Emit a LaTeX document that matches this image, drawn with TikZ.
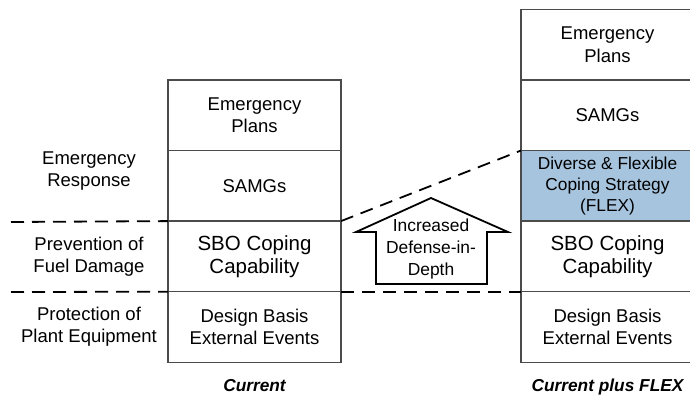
\documentclass[tikz,border=0pt]{standalone}
\usepackage{fontspec}
\setmainfont{Liberation Sans}
\usetikzlibrary{positioning}
\definecolor{rowline}{RGB}{75,75,75}
\definecolor{flexblue}{RGB}{167,196,222}

\begin{document}
\begin{tikzpicture}[
    x=1pt,y=-1pt,
    node distance=0pt,
    row/.style={draw=rowline,line width=1.5pt,outer sep=0pt,inner sep=0pt,
      align=center,minimum width=173pt,minimum height=70.6pt,
      font=\fontsize{18.5}{22.5}\selectfont},
    big/.style={font=\fontsize{20.5}{23}\selectfont},
    small/.style={font=\fontsize{17.3}{21}\selectfont},
    level/.style={align=center,font=\fontsize{18.5}{22}\selectfont},
    cut/.style={draw=black,line width=1.8pt,dash pattern=on 13pt off 8pt},
    caption/.style={font=\fontsize{17.3}{20}\selectfont\bfseries\itshape}
  ]
    \useasboundingbox (0,0) rectangle (690,397);
    % current
    \node[row] (db) at (254.5,327) {Design Basis\\External Events};
    \node[row,big,above=of db] (sbo) {SBO Coping\\Capability};
    \node[row,above=of sbo] (samg) {SAMGs};
    \node[row,above=of samg] (ep) {Emergency\\Plans};
    \node[caption] (cur) at (254.5,386) {Current};
    % current plus FLEX
    \node[row] (db2) at (607.5,327) {Design Basis\\External Events};
    \node[row,big,above=of db2] (sbo2) {SBO Coping\\Capability};
    \node[row,small,fill=flexblue,above=of sbo2] (flex) {Diverse \& Flexible\\Coping Strategy\\(FLEX)};
    \node[row,above=of flex] (samg2) {SAMGs};
    \node[row,above=of samg2] (ep2) {Emergency\\Plans};
    \node[caption] (cur2) at (607.5,387) {Current plus FLEX};
    % levels
    \node[level] (resp) at (89,171) {Emergency\\Response};
    \node[level] (prev) at (89,257) {Prevention of\\Fuel Damage};
    \node[level] (prot) at (89,327) {Protection of\\Plant Equipment};
    \coordinate (cut1) at (11,222);
    \coordinate (cut2) at (11,292);
    \draw[cut] (cut1) -- (sbo.north west);
    \draw[cut] (cut2) -- (db.north west);
    \draw[cut] (db.north east) -- (db2.north west);
    \draw[cut] (sbo.north east) -- (flex.north west);
    % up arrow
    \draw[line width=1.8pt,fill=white,line join=miter]
      (376,284) -- (376,232) -- (356,232) -- (431,198) -- (508,232)
      -- (487,232) -- (487,284) -- cycle;
    \node[align=center,font=\fontsize{17.4}{22}\selectfont] (gain) at (431,249)
      {Increased\\Defense-in-\\Depth};
\end{tikzpicture}
\end{document}
